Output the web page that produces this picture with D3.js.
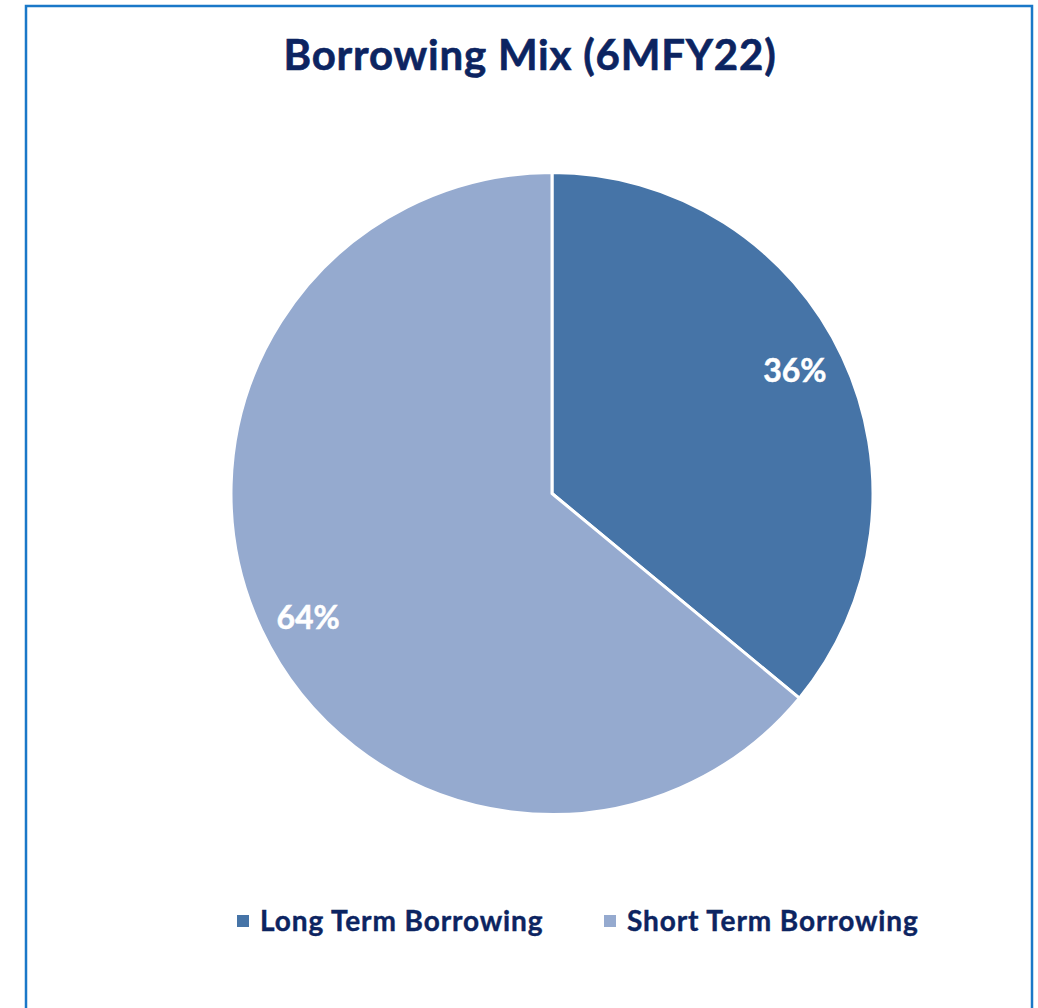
<!DOCTYPE html>
<html lang="en">
<head>
    <meta charset="UTF-8">
    <script src="https://d3js.org/d3.v7.min.js"></script>
    <title>Borrowing Mix</title>
    <style>
        body { margin: 0; background: #fff; }
        svg { display: block; }
    </style>
</head>
<body>
    <div id="chart"></div>
    <script>
        const categories = ['Long Term Borrowing', 'Short Term Borrowing'];
        const values = [36, 64];
        const colors = ['#4674a7', '#95aacf'];
        const title = 'Borrowing Mix (6MFY22)';

        const w = 1038;
        const h = 1008;
        const cx = 552, cy = 493.5, r = 321;
        const font = 'Lato, Carlito, Calibri, sans-serif';
        const navy = '#0c2461';

        const svg = d3.select('#chart')
                      .append('svg')
                      .attr('width', w)
                      .attr('height', h);

        // frame
        svg.append('rect')
           .attr('x', 26)
           .attr('y', 6)
           .attr('width', 1006)
           .attr('height', h + 20)
           .attr('fill', 'none')
           .attr('stroke', '#1a78c8')
           .attr('stroke-width', 2.5);

        svg.append('text')
           .text(title)
           .attr('x', 530)
           .attr('y', 70)
           .attr('text-anchor', 'middle')
           .attr('font-family', font)
           .attr('font-weight', 'bold')
           .attr('font-size', 42)
           .attr('letter-spacing', '0.8px')
           .attr('fill', navy)
           .attr('stroke', navy)
           .attr('stroke-width', 0.6);

        //pie
        const data = categories.map((c, i) => ({ name: c, value: values[i], color: colors[i] }));
        const pie = d3.pie().sort(null).value(d => d.value);
        const arc = d3.arc().innerRadius(0).outerRadius(r);
        const labelArc = d3.arc().innerRadius(r * 0.85).outerRadius(r * 0.85);

        const g = svg.append('g').attr('transform', 'translate(' + cx + ',' + cy + ')');
        const arcs = pie(data);

        g.selectAll('path')
         .data(arcs)
         .enter()
         .append('path')
         .attr('d', arc)
         .attr('fill', d => d.data.color)
         .attr('stroke', '#fff')
         .attr('stroke-width', 3)
         .attr('stroke-linejoin', 'round');

        // small nudge per label to sit where the original puts them
        const labelNudge = [[-4, -7], [3, 8]];
        g.selectAll('text.lbl')
         .data(arcs)
         .enter()
         .append('text')
         .attr('class', 'lbl')
         .text(d => d.data.value + '%')
         .attr('transform', (d, i) => {
             const c = labelArc.centroid(d);
             return 'translate(' + (c[0] + labelNudge[i][0]) + ',' + (c[1] + labelNudge[i][1]) + ')';
         })
         .attr('text-anchor', 'middle')
         .attr('dy', '0.35em')
         .attr('font-family', font)
         .attr('font-weight', 'bold')
         .attr('font-size', 32)
         .attr('fill', '#fff')
         .attr('stroke', '#fff')
         .attr('stroke-width', 0.5);

        //legend
        const legendX = [237, 604];
        const legend = svg.selectAll('g.legend')
                          .data(data)
                          .enter()
                          .append('g')
                          .attr('class', 'legend')
                          .attr('transform', (d, i) => 'translate(' + legendX[i] + ',' + 921 + ')');

        legend.append('rect')
              .attr('x', 0)
              .attr('y', -6)
              .attr('width', 12)
              .attr('height', 12)
              .attr('fill', d => d.color);

        legend.append('text')
              .text(d => d.name)
              .attr('x', 23)
              .attr('y', 0)
              .attr('dy', '0.35em')
              .attr('font-family', font)
              .attr('font-weight', 'bold')
              .attr('font-size', 28)
              .attr('letter-spacing', '0.9px')
              .attr('fill', navy)
              .attr('stroke', navy)
              .attr('stroke-width', 0.4);
    </script>
</body>
</html>
